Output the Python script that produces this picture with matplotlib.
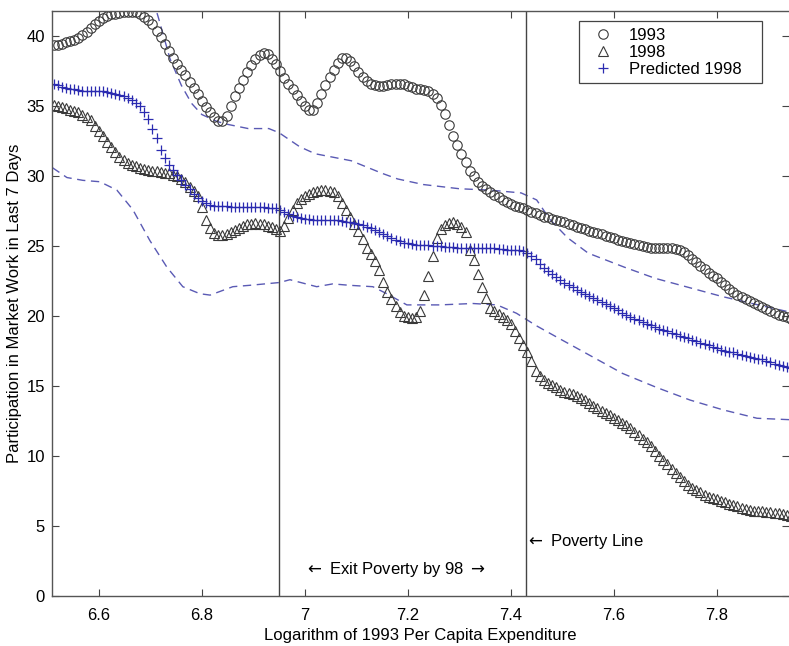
"""
Participation in market work vs. log 1993 per capita expenditure
"""
import numpy as np
import matplotlib
matplotlib.use('Agg')
import matplotlib.pyplot as plt
from matplotlib.lines import Line2D

plt.rcParams['font.family'] = ['Liberation Sans', 'DejaVu Sans']
plt.rcParams['mathtext.fontset'] = 'dejavusans'

# Evaluation grid (log of 1993 per capita expenditure)
log_exp = np.round(6.512 + 0.008 * np.arange(180), 3)

part_1993 = [
    39.35, 39.4, 39.45, 39.55, 39.65, 39.75, 39.9, 40.05, 40.3, 40.6,
    40.85, 41.1, 41.3, 41.45, 41.55, 41.62, 41.68, 41.72, 41.75, 41.75,
    41.75, 41.6, 41.4, 41.15, 40.85, 40.4, 39.95, 39.45, 38.95, 38.45,
    38.0, 37.6, 37.2, 36.75, 36.3, 35.85, 35.4, 34.95, 34.55, 34.2,
    33.95, 33.95, 34.3, 35.0, 35.7, 36.3, 36.9, 37.45, 37.95, 38.35,
    38.65, 38.8, 38.7, 38.4, 38.0, 37.5, 37.0, 36.6, 36.2, 35.8,
    35.35, 35.0, 34.75, 34.75, 35.2, 35.9, 36.5, 37.05, 37.6, 38.1,
    38.45, 38.45, 38.2, 37.85, 37.45, 37.1, 36.8, 36.6, 36.5, 36.45,
    36.45, 36.5, 36.55, 36.6, 36.6, 36.55, 36.45, 36.35, 36.25, 36.2,
    36.15, 36.05, 35.9, 35.55, 35.05, 34.45, 33.65, 32.9, 32.2, 31.55,
    31.0, 30.4, 30.0, 29.6, 29.3, 29.05, 28.85, 28.65, 28.5, 28.3,
    28.15, 28.0, 27.9, 27.8, 27.7, 27.55, 27.45, 27.35, 27.2, 27.1,
    27.05, 26.95, 26.9, 26.8, 26.7, 26.6, 26.5, 26.4, 26.3, 26.2,
    26.1, 26.0, 25.95, 25.85, 25.75, 25.65, 25.55, 25.45, 25.35, 25.3,
    25.2, 25.15, 25.1, 25.0, 24.95, 24.9, 24.9, 24.9, 24.9, 24.9,
    24.85, 24.8, 24.7, 24.55, 24.35, 24.1, 23.85, 23.6, 23.35, 23.1,
    22.9, 22.7, 22.45, 22.2, 21.95, 21.7, 21.5, 21.35, 21.2, 21.05,
    20.95, 20.8, 20.65, 20.5, 20.35, 20.2, 20.1, 20.0, 19.9, 19.8,
]

part_1998 = [
    35.1, 35.0, 34.95, 34.85, 34.75, 34.65, 34.55, 34.4, 34.25, 34.0,
    33.6, 33.2, 32.85, 32.45, 32.1, 31.75, 31.4, 31.15, 30.95, 30.8,
    30.7, 30.6, 30.5, 30.45, 30.4, 30.35, 30.3, 30.25, 30.2, 30.1,
    30.0, 29.8, 29.55, 29.25, 28.95, 28.6, 27.8, 26.9, 26.3, 25.95,
    25.8, 25.8, 25.9, 26.0, 26.15, 26.3, 26.45, 26.55, 26.6, 26.65,
    26.6, 26.55, 26.45, 26.35, 26.2, 26.1, 26.45, 27.0, 27.6, 28.05,
    28.35, 28.55, 28.75, 28.85, 28.95, 29.0, 29.0, 28.95, 28.85, 28.55,
    28.1, 27.6, 27.1, 26.6, 26.05, 25.5, 24.9, 24.45, 23.95, 23.3,
    22.45, 21.75, 21.2, 20.7, 20.3, 20.0, 19.9, 19.85, 19.95, 20.35,
    21.5, 22.9, 24.3, 25.6, 26.2, 26.5, 26.65, 26.7, 26.6, 26.4,
    26.0, 24.7, 24.0, 23.0, 22.05, 21.3, 20.6, 20.35, 20.15, 19.95,
    19.7, 19.4, 18.95, 18.45, 17.95, 17.45, 16.8, 16.1, 15.7, 15.45,
    15.25, 15.05, 14.9, 14.75, 14.6, 14.5, 14.4, 14.3, 14.15, 14.0,
    13.8, 13.6, 13.4, 13.25, 13.05, 12.9, 12.7, 12.55, 12.35, 12.2,
    12.0, 11.75, 11.5, 11.25, 11.0, 10.7, 10.35, 10.0, 9.7, 9.4,
    9.1, 8.8, 8.5, 8.2, 7.95, 7.75, 7.55, 7.4, 7.25, 7.1,
    7.0, 6.9, 6.8, 6.7, 6.6, 6.5, 6.4, 6.3, 6.25, 6.15,
    6.1, 6.05, 6.05, 6.0, 6.0, 5.95, 5.9, 5.85, 5.8, 5.75,
]

part_pred = [
    36.6, 36.5, 36.4, 36.3, 36.25, 36.2, 36.15, 36.1, 36.1, 36.1,
    36.1, 36.1, 36.05, 36.0, 35.95, 35.9, 35.8, 35.7, 35.6, 35.45,
    35.25, 35.0, 34.6, 34.1, 33.4, 32.7, 31.9, 31.3, 30.8, 30.45,
    30.1, 29.75, 29.4, 29.05, 28.75, 28.45, 28.2, 28.05, 27.95, 27.9,
    27.9, 27.85, 27.85, 27.8, 27.8, 27.8, 27.8, 27.8, 27.8, 27.8,
    27.8, 27.8, 27.75, 27.75, 27.7, 27.6, 27.45, 27.3, 27.15, 27.05,
    27.0, 26.95, 26.95, 26.9, 26.9, 26.9, 26.9, 26.9, 26.9, 26.85,
    26.8, 26.75, 26.7, 26.65, 26.6, 26.5, 26.4, 26.3, 26.15, 26.0,
    25.9, 25.75, 25.6, 25.45, 25.35, 25.25, 25.2, 25.15, 25.1, 25.1,
    25.05, 25.05, 25.0, 25.0, 25.0, 24.95, 24.95, 24.95, 24.9, 24.9,
    24.9, 24.9, 24.9, 24.9, 24.9, 24.9, 24.85, 24.85, 24.8, 24.8,
    24.75, 24.75, 24.7, 24.7, 24.65, 24.5, 24.3, 24.05, 23.75, 23.45,
    23.2, 23.0, 22.8, 22.6, 22.4, 22.2, 22.05, 21.9, 21.75, 21.6,
    21.45, 21.3, 21.15, 21.0, 20.85, 20.7, 20.55, 20.4, 20.25, 20.1,
    19.95, 19.8, 19.7, 19.6, 19.45, 19.35, 19.25, 19.1, 19.0, 18.9,
    18.8, 18.7, 18.6, 18.5, 18.4, 18.3, 18.2, 18.1, 18.0, 17.9,
    17.8, 17.7, 17.6, 17.5, 17.45, 17.4, 17.3, 17.2, 17.15, 17.05,
    17.0, 16.95, 16.9, 16.8, 16.7, 16.6, 16.5, 16.4, 16.35, 16.3,
]

# Confidence band for the prediction
band_hi_x = [6.705, 6.715, 6.738, 6.76, 6.78, 6.80, 6.83, 6.85, 6.89, 6.93,
             6.95, 6.99, 7.02, 7.09, 7.15, 7.18, 7.23, 7.30, 7.36, 7.42,
             7.45, 7.476, 7.51, 7.55, 7.62, 7.68, 7.75, 7.81, 7.88, 7.94]
band_hi = [42.6, 41.4, 38.4, 36.5, 35.2, 34.4, 33.9, 33.7, 33.4, 33.4,
           33.1, 32.1, 31.6, 31.1, 30.2, 29.8, 29.4, 29.1, 29.0, 28.8,
           28.3, 26.9, 25.6, 24.5, 23.5, 22.7, 22.0, 21.4, 20.8, 20.3]

band_lo_x = [6.51, 6.538, 6.569, 6.602, 6.635, 6.666, 6.699, 6.732, 6.763, 6.796,
             6.816, 6.86, 6.893, 6.951, 6.971, 7.023, 7.054, 7.087, 7.132, 7.159,
             7.198, 7.262, 7.326, 7.373, 7.411, 7.45, 7.489, 7.553, 7.617, 7.683,
             7.748, 7.812, 7.878, 7.94]
band_lo = [30.6, 29.9, 29.7, 29.6, 29.0, 27.6, 25.4, 23.5, 22.1, 21.6,
           21.5, 22.1, 22.2, 22.4, 22.6, 22.1, 22.3, 22.2, 22.1, 21.6,
           20.8, 20.8, 20.9, 20.8, 20.2, 19.3, 18.5, 17.2, 15.9, 14.9,
           14.0, 13.3, 12.7, 12.6]

exit_line = 6.95
poverty_line = 7.43

fig = plt.figure(figsize=(7.89, 6.46), dpi=100)
ax = fig.add_axes([52 / 789, 50 / 646, 737 / 789, 585 / 646])

blue = '#2b2bb0'
band_col = '#5a5ab4'
mark_col = '#3a3a3a'

ax.plot(band_hi_x, band_hi, '--', color=band_col, lw=1.0, dashes=(6, 4))
ax.plot(band_lo_x, band_lo, '--', color=band_col, lw=1.0, dashes=(6, 4))

ax.plot(log_exp, part_1993, 'o', ls='none', ms=6.8, mfc='none', mec=mark_col, mew=0.8)
ax.plot(log_exp, part_1998, '^', ls='none', ms=7.5, mfc='none', mec=mark_col, mew=0.8)
ax.plot(log_exp, part_pred, '+', ls='none', ms=7.5, color=blue, mew=0.9)

ax.axvline(exit_line, color='#444444', lw=1.0)
ax.axvline(poverty_line, color='#444444', lw=1.0)

ax.text(6.998, 1.86, r'$\leftarrow$ Exit Poverty by 98 $\rightarrow$',
        fontsize=12, va='center', ha='left')
ax.text(poverty_line - 0.002, 3.86, r'$\leftarrow$ Poverty Line',
        fontsize=12, va='center', ha='left')

ax.set_xlim(6.509, 7.94)
ax.set_ylim(0, 41.8)
ax.set_xticks([6.6, 6.8, 7.0, 7.2, 7.4, 7.6, 7.8])
ax.set_xticklabels(['6.6', '6.8', '7', '7.2', '7.4', '7.6', '7.8'])
ax.set_yticks([0, 5, 10, 15, 20, 25, 30, 35, 40])
ax.tick_params(direction='in', top=True, right=True, length=5, width=0.8,
               color='#444444', labelsize=12)
ax.tick_params(axis='x', pad=9)
ax.tick_params(axis='y', pad=5)
for side in ['left', 'bottom', 'top']:
    ax.spines[side].set_color('#555555')
    ax.spines[side].set_linewidth(1.0)
ax.spines['right'].set_visible(False)

ax.set_xlabel('Logarithm of 1993 Per Capita Expenditure', fontsize=12, labelpad=3)
ax.set_ylabel('Participation in Market Work in Last 7 Days', fontsize=12, labelpad=3)

handles = [
    Line2D([], [], marker='o', ls='none', ms=6.8, mfc='none', mec=mark_col, mew=0.8),
    Line2D([], [], marker='^', ls='none', ms=7, mfc='none', mec=mark_col, mew=0.8),
    Line2D([], [], marker='+', ls='none', ms=7.5, color=blue, mew=0.9),
]
leg = ax.legend(handles, ['1993', '1998', 'Predicted 1998   '], loc='upper right',
                bbox_to_anchor=(0.963, 0.983), fontsize=12, frameon=True,
                fancybox=False, framealpha=1, edgecolor='#444444',
                handlelength=2.1, handletextpad=0.5, borderpad=0.4,
                labelspacing=0.12, borderaxespad=0)
leg.get_frame().set_linewidth(0.9)

fig.savefig('out.png', dpi=100)
